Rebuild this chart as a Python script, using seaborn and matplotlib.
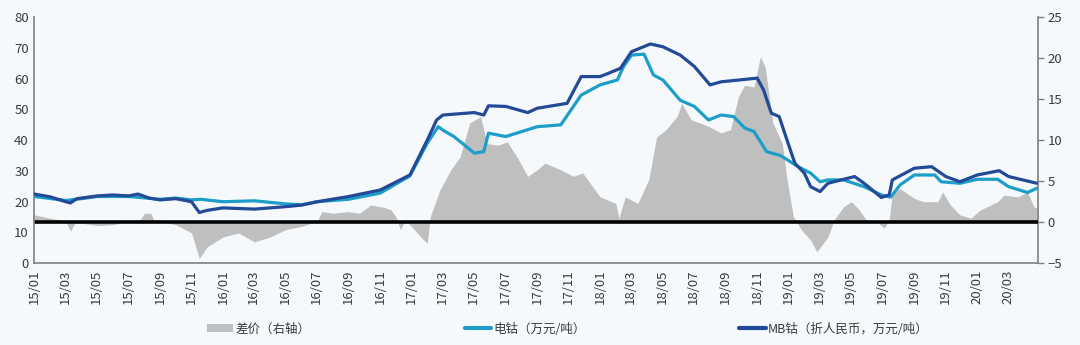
import numpy as np
import pandas as pd
import matplotlib
matplotlib.use("Agg")
import matplotlib.pyplot as plt
import matplotlib.dates as mdates
from matplotlib.patches import Patch
from matplotlib.lines import Line2D
import seaborn as sns

# ---- data (x in months since 2015-01) ----
mb_month = [0, 1, 2, 2.3, 2.7, 4, 5, 6, 6.6, 7.3, 8, 9, 10, 10.5, 11, 12, 14, 16, 17, 18, 20,
            22, 23.9, 25, 25.6, 26, 28, 28.6, 28.9, 30, 31.4, 32, 33.9, 34.8, 36, 36.5, 37.3,
            38, 39.2, 40, 41.1, 42, 43, 43.7, 46, 46.4, 46.9, 47.4, 47.9, 48.4, 49, 49.4, 50,
            50.5, 52.2, 52.8, 53.9, 54.4, 54.6, 56, 57.1, 58, 58.9, 60, 61.4, 62, 63.8]
mb_price = [22.5, 21.6, 20.0, 19.6, 21.0, 21.9, 22.2, 21.9, 22.5, 21.2, 20.6, 21.0, 20.0, 16.5,
            17.2, 18.0, 17.6, 18.4, 18.9, 20.0, 21.7, 23.8, 28.7, 40.0, 46.6, 48.2, 49.0, 48.2,
            51.2, 51.0, 49.0, 50.4, 52.0, 60.7, 60.7, 61.7, 63.4, 68.8, 71.3, 70.4, 67.7, 64.0,
            58.0, 59.0, 60.2, 56.4, 48.8, 47.7, 40.0, 32.5, 29.3, 24.9, 23.3, 26.0, 28.2, 26.0,
            21.4, 22.2, 27.1, 30.9, 31.4, 28.2, 26.5, 28.7, 30.1, 28.2, 26.0]

ec_month = [0, 2, 3, 4, 6, 8, 9, 10, 10.6, 12, 14, 16, 17, 18, 20, 22, 23.9, 25, 25.7, 26, 26.7,
            27.5, 28, 28.6, 28.9, 30, 32, 33.5, 34.8, 36, 37.1, 37.5, 38, 38.8, 39.4, 40, 41.1,
            42, 42.9, 43.7, 44.5, 45.2, 45.8, 46.6, 47.5, 48.6, 49.4, 50, 50.5, 51.5, 52.8,
            53.9, 54.5, 55.1, 56, 57.3, 57.7, 58.9, 60, 61.3, 62, 63.2, 63.8]
ec_price = [21.7, 20.4, 21.0, 21.7, 21.7, 20.8, 21.2, 20.6, 20.8, 20.0, 20.3, 19.3, 19.0, 20.0,
            20.8, 22.8, 28.4, 39.0, 44.4, 43.3, 41.2, 37.9, 35.8, 36.3, 42.3, 41.2, 44.4, 45.0,
            54.7, 58.0, 59.6, 64.0, 67.7, 68.0, 61.2, 59.6, 53.0, 51.0, 46.6, 48.2, 47.7, 44.0,
            42.8, 36.3, 35.0, 31.4, 29.3, 26.5, 27.1, 27.1, 24.9, 22.2, 21.5, 25.5, 28.7, 28.7,
            26.5, 26.0, 27.3, 27.3, 24.9, 23.0, 24.4]

sp_month = [0, 1, 2, 2.3, 2.6, 4, 5, 6, 6.7, 7, 7.4, 7.6, 8, 9, 10, 10.5, 11, 12, 13, 14, 15,
            16, 17, 18, 18.3, 19, 20, 20.7, 21.4, 22.3, 22.7, 23, 23.3, 23.6, 24.6, 25, 25.2,
            25.8, 26.5, 27.1, 27.7, 28.4, 28.8, 29.5, 30.1, 30.7, 31.4, 32, 32.5, 33.5, 34.3,
            34.9, 36, 37, 37.2, 37.6, 38.4, 39.1, 39.6, 40.2, 40.9, 41.2, 41.8, 42.9, 43.7,
            44.3, 44.8, 45.2, 45.8, 46.2, 46.5, 47, 47.6, 47.9, 48.3, 48.8, 49.4, 49.8, 50.5,
            50.9, 51.5, 52, 52.5, 53, 53.5, 54.1, 54.4, 54.6, 55.1, 56, 56.6, 57.5, 57.8, 58.3,
            58.9, 59.6, 60.2, 61.3, 61.7, 62.6, 63.2, 63.6, 63.8]
sp_value = [0.9, 0.5, 0.1, -1.1, 0.0, -0.4, -0.3, 0.1, 0.2, 1.1, 1.1, 0.3, 0.1, -0.3, -1.3,
            -4.4, -3.0, -1.8, -1.3, -2.4, -1.8, -0.9, -0.5, 0.1, 1.3, 1.1, 1.3, 1.1, 2.1, 1.8,
            1.5, 0.7, -0.9, 0.3, -1.8, -2.6, 0.7, 3.9, 6.4, 8.0, 12.1, 12.9, 9.6, 9.4, 9.8,
            8.0, 5.6, 6.4, 7.2, 6.4, 5.6, 6.0, 3.1, 2.3, 0.5, 3.1, 2.3, 5.2, 10.4, 11.3, 12.9,
            14.5, 12.5, 11.7, 10.9, 11.3, 15.3, 16.7, 16.5, 20.2, 19.0, 12.1, 9.6, 5.2, 0.7,
            -0.9, -2.2, -3.6, -1.8, 0.3, 1.9, 2.5, 1.5, 0.1, 0.2, -0.7, 0.3, 3.5, 4.1, 2.9,
            2.5, 2.5, 3.7, 2.1, 0.9, 0.5, 1.5, 2.5, 3.3, 3.1, 3.7, 1.9, 1.7]

legend_labels = ["差价（右轴）", "电钴（万元/吨）", "MB钴（折人民币，万元/吨）"]
start = pd.Timestamp("2015-01-01")
end = pd.Timestamp("2020-04-28")


def to_dates(months):
    return start + pd.to_timedelta(np.array(months) * 30.4375, unit="D")


mb = pd.DataFrame({"date": to_dates(mb_month), "value": mb_price})
ec = pd.DataFrame({"date": to_dates(ec_month), "value": ec_price})
sp = pd.DataFrame({"date": to_dates(sp_month), "value": sp_value})

# ---- styling ----
sns.set_theme(style="white")
plt.rcParams["font.family"] = ["Noto Sans CJK SC", "DejaVu Sans"]

GRAY = "#bfbfbf"
CYAN = "#1c9ec9"
NAVY = "#234a96"
BG = "#f6f9fc"
TXT = "#3a3a3a"
SPINE = "#7f7f7f"

fig = plt.figure(figsize=(10.8, 3.45), dpi=100, facecolor=BG)
ax = fig.add_axes([0.0318, 0.237, 0.9293, 0.713])
ax2 = ax.twinx()

# area on right axis
ax2.fill_between(sp["date"], 0, sp["value"], color=GRAY, lw=0)
ax2.axhline(0, color="black", lw=2.6, zorder=3)
ax2.set_ylim(-5, 25)
ax2.set_yticks(range(-5, 26, 5))

# lines on left axis
sns.lineplot(data=ec, x="date", y="value", ax=ax, color=CYAN, lw=2.3, zorder=4)
sns.lineplot(data=mb, x="date", y="value", ax=ax, color=NAVY, lw=2.3, zorder=5)
ax.set_zorder(ax2.get_zorder() + 1)
ax.patch.set_visible(False)
ax2.patch.set_facecolor(BG)

ax.set_ylim(0, 80)
ax.set_yticks(range(0, 81, 10))
ax.set_xlim(start, end)
ax.set_xlabel("")
ax.set_ylabel("")
ax2.set_ylabel("")

ax.xaxis.set_major_locator(mdates.MonthLocator(bymonth=[1, 3, 5, 7, 9, 11]))
ax.xaxis.set_major_formatter(mdates.DateFormatter("%y/%m"))
for lbl in ax.get_xticklabels():
    lbl.set_rotation(90)

ax.tick_params(axis="x", direction="inout", length=5, width=1, color=SPINE,
               labelsize=9.5, labelcolor=TXT, pad=2)
ax.tick_params(axis="y", length=0, labelsize=9.5, labelcolor=TXT, pad=4)
ax2.tick_params(axis="y", direction="out", length=4, width=1, color=SPINE,
                labelsize=9.5, labelcolor=TXT, pad=3)

for a in (ax, ax2):
    a.spines["top"].set_visible(False)
    for s in ("left", "bottom", "right"):
        a.spines[s].set_color(SPINE)
        a.spines[s].set_linewidth(1.2)
ax.spines["right"].set_visible(False)
ax2.spines["left"].set_visible(False)
ax2.spines["bottom"].set_visible(False)

handles = [Patch(facecolor=GRAY, edgecolor="none"),
           Line2D([0], [0], color=CYAN, lw=3),
           Line2D([0], [0], color=NAVY, lw=3)]
fig.legend(handles, legend_labels, loc="center left", bbox_to_anchor=(207 / 1080, 0.046),
           borderaxespad=0, borderpad=0,
           ncol=3, frameon=False, fontsize=9, handlelength=2.1, handleheight=0.6,
           handletextpad=0.2, columnspacing=12.3, labelcolor=TXT)

fig.savefig("out.png", dpi=100, facecolor=BG)
